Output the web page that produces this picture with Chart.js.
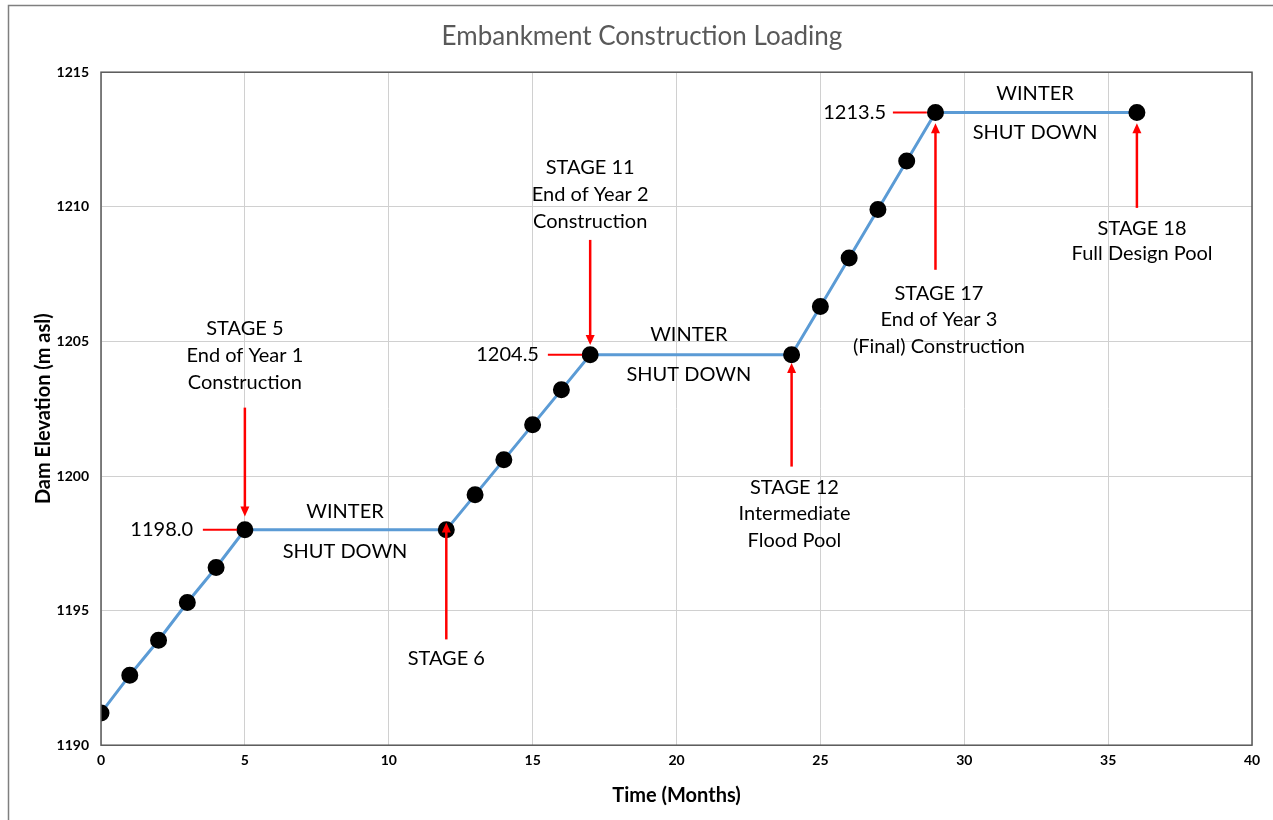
<!DOCTYPE html>
<html>
<head>
<meta charset="utf-8">
<script src="https://cdn.jsdelivr.net/npm/chart.js@4.4.1/dist/chart.umd.min.js"></script>
<style>
html,body{margin:0;padding:0;background:#fff;}
#wrap{position:relative;width:1273px;height:820px;}
</style>
</head>
<body>
<div id="wrap"><canvas id="c" width="1273" height="820"></canvas></div>
<script>
// ---- data ----
const months = [0,1,2,3,4,5,12,13,14,15,16,17,24,25,26,27,28,29,36];
const elevations = [1191.2,1192.6,1193.9,1195.3,1196.6,1198.0,1198.0,1199.3,1200.6,1201.9,1203.2,1204.5,1204.5,1206.3,1208.1,1209.9,1211.7,1213.5,1213.5];
const xTicks = [0,5,10,15,20,25,30,35,40];
const yTicks = [1190,1195,1200,1205,1210,1215];
const titleText = 'Embankment Construction Loading';
const xTitle = 'Time (Months)';
const yTitle = 'Dam Elevation (m asl)';

// annotation texts (data coordinates)
const stageLabels = [
  {x:5,    y:[1205.47,1204.47,1203.46], lines:['STAGE 5','End of Year 1','Construction']},
  {x:12,   y:[1193.23], lines:['STAGE 6']},
  {x:17,   y:[1211.44,1210.47,1209.47], lines:['STAGE 11','End of Year 2','Construction']},
  {x:24.1, y:[1199.57,1198.6,1197.6], lines:['STAGE 12','Intermediate','Flood Pool']},
  {x:29.12,y:[1206.77,1205.8,1204.8], lines:['STAGE 17','End of Year 3','(Final) Construction']},
  {x:36.18,y:[1209.21,1208.25], lines:['STAGE 18','Full Design Pool']}
];
const winterLabels = [
  {x:8.48,  yW:1198.68, yS:1197.2},
  {x:20.43, yW:1205.24, yS:1203.76},
  {x:32.46, yW:1214.22, yS:1212.74}
];
// arrows: x, from y, to y (head at "to")
const arrows = [
  {x:5,  y0:1202.54, y1:1198.5},
  {x:12, y0:1193.93, y1:1198.27},
  {x:17, y0:1208.77, y1:1204.87},
  {x:24, y0:1200.35, y1:1204.2},
  {x:29, y0:1207.66, y1:1213.1},
  {x:36, y0:1209.96, y1:1213.1}
];
// level markers: value label, line from xa to xb, label right edge at xt
const levels = [
  {y:1198.0, text:'1198.0', xt:3.2,  xa:3.54,  xb:4.73},
  {y:1204.5, text:'1204.5', xt:15.22, xa:15.53, xb:16.72},
  {y:1213.5, text:'1213.5', xt:27.28, xa:27.52, xb:28.7}
];

const FONT = 'Lato, "Open Sans", sans-serif';

const annotPlugin = {
  id:'annot',
  beforeDraw(chart){
    const ctx = chart.ctx;
    ctx.save();
    ctx.fillStyle = '#fff';
    ctx.fillRect(0,0,chart.width,chart.height);
    ctx.strokeStyle = '#7f7f7f';
    ctx.lineWidth = 1.5;
    ctx.beginPath();
    ctx.moveTo(8.5, 900); ctx.lineTo(8.5, 5.5); ctx.lineTo(1300, 5.5);
    ctx.stroke();
    ctx.restore();
  },
  afterDatasetsDraw(chart){
    const ctx = chart.ctx;
    const xs = chart.scales.x, ys = chart.scales.y;
    const ca = chart.chartArea;
    ctx.save();
    // plot border
    ctx.strokeStyle = '#595959';
    ctx.lineWidth = 1.5;
    ctx.strokeRect(ca.left, ca.top, ca.right-ca.left, ca.bottom-ca.top);

    ctx.fillStyle = '#000';
    ctx.font = '20px ' + FONT;
    ctx.textAlign = 'center';
    ctx.textBaseline = 'middle';
    stageLabels.forEach(s=>{
      s.lines.forEach((l,i)=>{
        ctx.fillText(l, xs.getPixelForValue(s.x), ys.getPixelForValue(s.y[i]));
      });
    });
    winterLabels.forEach(w=>{
      ctx.fillText('WINTER', xs.getPixelForValue(w.x), ys.getPixelForValue(w.yW));
      ctx.fillText('SHUT DOWN', xs.getPixelForValue(w.x), ys.getPixelForValue(w.yS));
    });
    // level labels
    ctx.textAlign = 'right';
    levels.forEach(lv=>{
      const py = ys.getPixelForValue(lv.y);
      ctx.fillStyle = '#000';
      ctx.fillText(lv.text, xs.getPixelForValue(lv.xt), py);
      ctx.strokeStyle = '#ff0000';
      ctx.lineWidth = 2;
      ctx.beginPath();
      ctx.moveTo(xs.getPixelForValue(lv.xa), py);
      ctx.lineTo(xs.getPixelForValue(lv.xb), py);
      ctx.stroke();
    });
    // arrows
    arrows.forEach(a=>{
      const px = xs.getPixelForValue(a.x);
      const p0 = ys.getPixelForValue(a.y0), p1 = ys.getPixelForValue(a.y1);
      const dir = p1 > p0 ? 1 : -1;
      ctx.strokeStyle = '#ff0000';
      ctx.fillStyle = '#ff0000';
      ctx.lineWidth = 2.5;
      ctx.beginPath();
      ctx.moveTo(px, p0);
      ctx.lineTo(px, p1 - dir*8);
      ctx.stroke();
      ctx.beginPath();
      ctx.moveTo(px, p1);
      ctx.lineTo(px-4.5, p1 - dir*10);
      ctx.lineTo(px+4.5, p1 - dir*10);
      ctx.closePath();
      ctx.fill();
    });
    ctx.restore();
  }
};

new Chart(document.getElementById('c'), {
  type:'scatter',
  data:{
    datasets:[{
      data: months.map((m,i)=>({x:m, y:elevations[i]})),
      showLine:true,
      borderColor:'#5b9bd5',
      borderWidth:3,
      pointBackgroundColor:'#000',
      pointBorderColor:'#000',
      pointRadius:7,
      pointHoverRadius:7,
      tension:0
    }]
  },
  options:{
    responsive:false,
    animation:false,
    events:[],
    layout:{padding:{left:32, right:21, top:0, bottom:0}},
    plugins:{
      legend:{display:false},
      tooltip:{enabled:false},
      title:{
        display:true,
        text:titleText,
        color:'#595959',
        font:{family:FONT, size:26, weight:'normal'},
        padding:{top:21, bottom:20}
      }
    },
    scales:{
      x:{
        type:'linear',
        min:0, max:40,
        afterBuildTicks(s){ s.ticks = xTicks.map(v=>({value:v})); },
        ticks:{color:'#000', font:{family:FONT, size:14, weight:'bold'}, padding:7, maxRotation:0,
               callback:(v)=>String(v)},
        grid:{color:'#d0d0d0', lineWidth:1, drawTicks:false},
        border:{display:false},
        title:{display:true, text:xTitle, color:'#000', font:{family:FONT, size:20, weight:'bold'}, padding:{top:8,bottom:12}}
      },
      y:{
        type:'linear',
        min:1190, max:1215,
        afterBuildTicks(s){ s.ticks = yTicks.map(v=>({value:v})); },
        afterFit(s){ s.width = 69; },
        ticks:{color:'#000', font:{family:FONT, size:14, weight:'bold'}, padding:12,
               callback:(v)=>String(v)},
        grid:{color:'#d0d0d0', lineWidth:1, drawTicks:false},
        border:{display:false},
        title:{display:true, text:yTitle, color:'#000', font:{family:FONT, size:20, weight:'bold'}, padding:{top:0,bottom:0}}
      }
    }
  },
  plugins:[annotPlugin]
});
</script>
</body>
</html>
